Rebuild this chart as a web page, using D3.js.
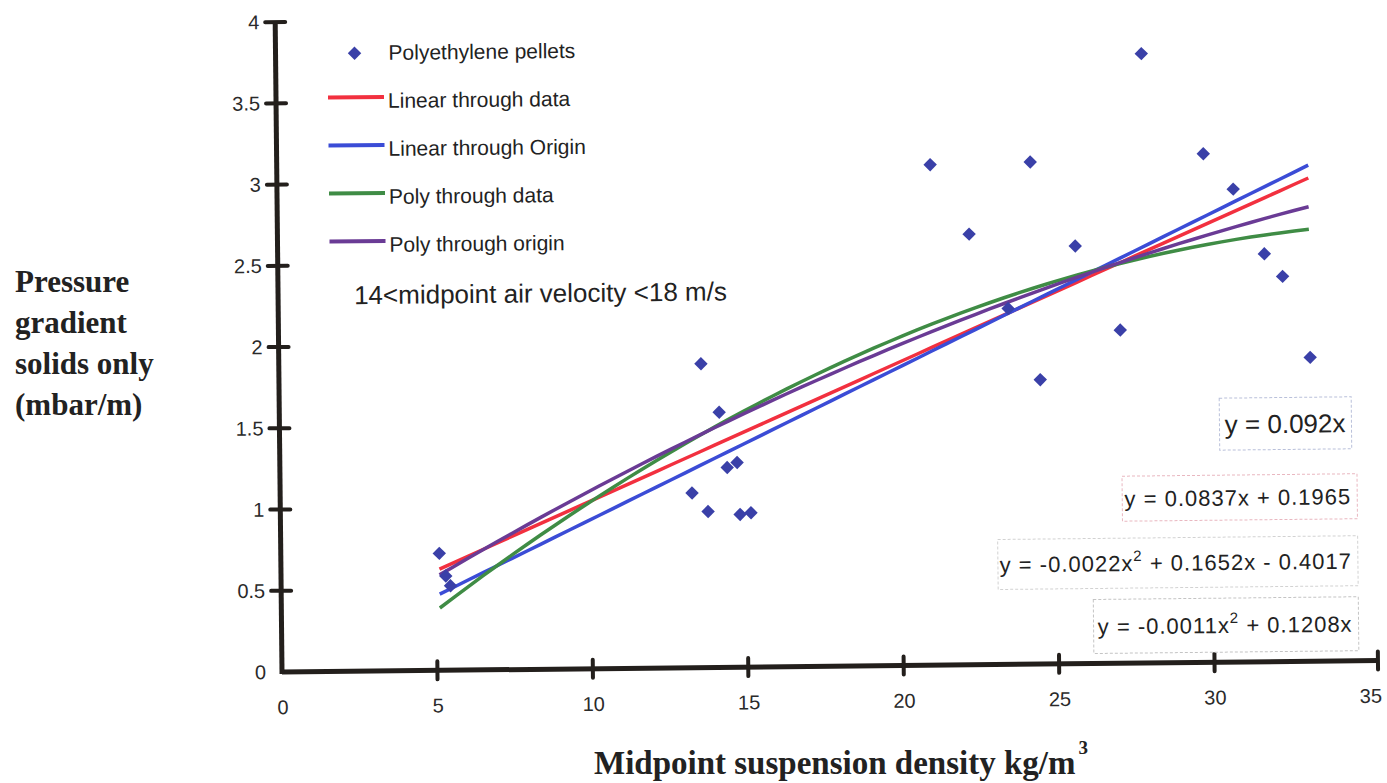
<!DOCTYPE html>
<html>
<head>
<meta charset="utf-8">
<script src="https://cdn.jsdelivr.net/npm/d3@7"></script>
<style>
  body { margin: 0; background: #fff; }
  svg { display: block; }
</style>
</head>
<body>
<svg width="1387" height="783"></svg>
<script>
// measured points: midpoint suspension density (kg/m3) vs pressure gradient (mbar/m)
const densities = [5.1, 5.3, 5.45, 13.25, 13.58, 13.76, 14.15, 14.39, 14.71, 14.79, 15.14,
  21.02, 22.25, 23.48, 24.24, 24.49, 25.66, 27.08, 27.85, 29.81, 30.76, 31.74, 32.32, 33.18];
const gradients = [0.72, 0.58, 0.52, 1.075, 1.87, 0.96, 1.57, 1.23, 1.26, 0.94, 0.95,
  3.08, 2.65, 2.19, 3.09, 1.75, 2.57, 2.05, 3.75, 3.13, 2.91, 2.51, 2.37, 1.87];

// trendlines, coefficients as printed on the chart: [a2, a1, a0]
const fitNames = ["Linear through data", "Linear through Origin", "Poly through data", "Poly through origin"];
const fitCoefs = [[0, 0.0837, 0.1965], [0, 0.092, 0], [-0.0022, 0.1652, -0.4017], [-0.0011, 0.1208, 0]];
const fitColors = ["#f2303f", "#3b4cd6", "#3f8c45", "#6a3b95"];

const xTicks = [0, 5, 10, 15, 20, 25, 30, 35];
const yTicks = [0, 0.5, 1, 1.5, 2, 2.5, 3, 3.5, 4];

const svg = d3.select("svg");
const axisColor = "#231f1c";
const pointColor = "#3a40a8";
const sans = "Liberation Sans, Arial, sans-serif";
const serif = "Liberation Serif, Times New Roman, serif";

const xScale = d3.scaleLinear().domain([0, 35]).range([282, 1370]);
const yScale = d3.scaleLinear().domain([0, 4]).range([672, 22]);

// the scan is tilted a little, so turn the plot with it
const plot = svg.append("g").attr("transform", "rotate(-0.6, 282, 672)");

// axes
const xAxis = d3.axisBottom(xScale).tickValues(xTicks).tickSize(0).tickPadding(28);
const yAxis = d3.axisLeft(yScale).tickValues(yTicks).tickSize(0).tickPadding(16)
  .tickFormat(d3.format("~g"));

const xg = plot.append("g").attr("transform", "translate(0,672)").call(xAxis);
const yg = plot.append("g").attr("transform", "translate(282,0)").call(yAxis);
[xg, yg].forEach((g) => {
  g.select("path.domain").remove();
  g.selectAll("text")
    .style("font-family", sans)
    .style("font-size", "20px")
    .attr("fill", "#2a2a2a");
});

plot.append("line")
  .attr("x1", xScale(0)).attr("x2", xScale(35) + 8)
  .attr("y1", yScale(0)).attr("y2", yScale(0))
  .attr("stroke", axisColor).attr("stroke-width", 5);
plot.append("line")
  .attr("x1", xScale(0)).attr("x2", xScale(0))
  .attr("y1", yScale(0) + 2).attr("y2", yScale(4))
  .attr("stroke", axisColor).attr("stroke-width", 5);

plot.append("g").selectAll("line")
  .data(xTicks.slice(1))
  .join("line")
  .attr("x1", (d) => xScale(d) + (d === 35 ? 8 : 0))
  .attr("x2", (d) => xScale(d) + (d === 35 ? 8 : 0))
  .attr("y1", yScale(0) - 9).attr("y2", yScale(0) + 9)
  .attr("stroke", axisColor).attr("stroke-width", 4).attr("stroke-linecap", "round");
plot.append("g").selectAll("line")
  .data(yTicks.slice(1))
  .join("line")
  .attr("x1", xScale(0) - 10).attr("x2", xScale(0) + 10)
  .attr("y1", (d) => yScale(d)).attr("y2", (d) => yScale(d))
  .attr("stroke", axisColor).attr("stroke-width", 4).attr("stroke-linecap", "round");

// trendlines over the span of the data
const [xMin, xMax] = d3.extent(densities);
const xs = d3.range(0, 61).map((i) => xMin + (xMax - xMin) * i / 60);
const line = d3.line().x((d) => xScale(d[0])).y((d) => yScale(d[1]));
const poly = (c, x) => c[0] * x * x + c[1] * x + c[2];

plot.append("g").selectAll("path")
  .data(fitCoefs)
  .join("path")
  .attr("d", (c) => line(xs.map((x) => [x, poly(c, x)])))
  .attr("fill", "none")
  .attr("stroke", (c, i) => fitColors[i])
  .attr("stroke-width", 3.5);

// points
const diamond = d3.symbol().type(d3.symbolDiamond2).size(115);
plot.append("g").selectAll("path")
  .data(d3.zip(densities, gradients))
  .join("path")
  .attr("d", diamond)
  .attr("transform", (d) => `translate(${xScale(d[0])},${yScale(d[1])})`)
  .attr("fill", pointColor);

// legend
const legend = plot.append("g")
  .style("font-family", sans)
  .style("font-size", "21px")
  .attr("fill", "#222");
legend.append("path").attr("d", diamond)
  .attr("transform", "translate(361,54)").attr("fill", pointColor);
legend.append("text").attr("x", 395).attr("y", 61).text("Polyethylene pellets");
fitNames.forEach((name, i) => {
  const y = 98 + i * 48;
  legend.append("line")
    .attr("x1", 334).attr("x2", 390).attr("y1", y).attr("y2", y)
    .attr("stroke", fitColors[i]).attr("stroke-width", 4);
  legend.append("text").attr("x", 394).attr("y", y + 11).text(name);
});

plot.append("text")
  .attr("x", 358).attr("y", 305)
  .style("font-family", sans)
  .style("font-size", "26px")
  .attr("fill", "#222")
  .text("14<midpoint air velocity <18 m/s");

// equation labels
const eqBoxes = [
  { x: 1222, y: 408, w: 132, h: 52, size: 26, border: "#b9c0da", parts: [["y = 0.092x"]] },
  { x: 1124, y: 485, w: 235, h: 45, size: 22, border: "#e9b7c0", parts: [["y = 0.0837x + 0.1965"]] },
  { x: 999, y: 547, w: 360, h: 50, size: 22, border: "#d2d2d2", parts: [["y = -0.0022x"], ["2", true], [" + 0.1652x - 0.4017"]] },
  { x: 1094, y: 608, w: 265, h: 54, size: 22, border: "#c4c4c4", parts: [["y = -0.0011x"], ["2", true], [" + 0.1208x"]] },
];
const eq = plot.append("g").selectAll("g").data(eqBoxes).join("g");
eq.append("rect")
  .attr("x", (d) => d.x).attr("y", (d) => d.y)
  .attr("width", (d) => d.w).attr("height", (d) => d.h)
  .attr("fill", "#fff").attr("stroke", (d) => d.border)
  .attr("stroke-width", 1).attr("stroke-dasharray", "3,2");
eq.append("text")
  .attr("x", (d) => d.x + d.w - 6)
  .attr("y", (d) => d.y + d.h / 2 + d.size * 0.36)
  .attr("text-anchor", "end")
  .style("font-family", sans)
  .style("font-size", (d) => d.size + "px")
  .style("letter-spacing", (d) => (d.size < 24 ? "1px" : "0"))
  .attr("fill", "#222")
  .each(function (d) {
    const t = d3.select(this);
    d.parts.forEach(([s, sup]) => {
      const sp = t.append("tspan").text(s);
      if (sup) sp.attr("dy", -10).style("font-size", "15px");
      else if (t.selectAll("tspan").size() > 1) sp.attr("dy", 10);
    });
  });

// axis titles
const yTitle = svg.append("text")
  .style("font-family", serif)
  .style("font-weight", "bold")
  .style("font-size", "31px")
  .attr("fill", "#222");
["Pressure", "gradient", "solids only", "(mbar/m)"].forEach((s, i) => {
  yTitle.append("tspan").attr("x", 15).attr("y", 292 + i * 41).text(s);
});

const xTitle = svg.append("text")
  .attr("x", 594).attr("y", 774)
  .style("font-family", serif)
  .style("font-weight", "bold")
  .style("font-size", "33px")
  .attr("fill", "#222");
xTitle.append("tspan").text("Midpoint suspension density kg/m");
xTitle.append("tspan").attr("dx", 3).attr("dy", -20).style("font-size", "19px").text("3");
</script>
</body>
</html>
